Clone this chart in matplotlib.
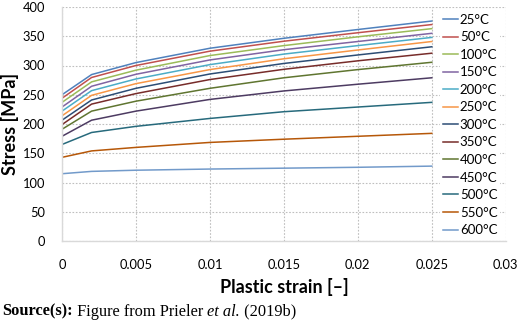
import matplotlib
matplotlib.use("Agg")
import matplotlib.pyplot as plt

strain = [0, 0.002, 0.005, 0.01, 0.015, 0.02, 0.025]
temps = ["25°C", "50°C", "100°C", "150°C", "200°C", "250°C", "300°C",
         "350°C", "400°C", "450°C", "500°C", "550°C", "600°C"]
s25 = [250, 284.5, 305, 329.5, 346.5, 361.5, 376]
s50 = [244, 279.5, 300, 324.5, 341.5, 356, 370]
s100 = [237, 272, 292, 317, 334, 349, 363]
s150 = [229, 264.5, 285, 309.5, 327, 341, 355]
s200 = [222, 257, 277, 301.5, 319.5, 334, 348]
s250 = [214, 249, 269, 293, 311.5, 326.5, 341]
s300 = [206.5, 241, 261, 285.5, 303.5, 318, 332]
s350 = [199, 234, 252, 276, 293.5, 308, 321]
s400 = [191, 222, 239, 261, 279, 293, 305.5]
s450 = [179, 206.5, 222, 242, 256.5, 268, 279]
s500 = [165, 185.5, 196, 209.5, 221, 229, 237]
s550 = [143, 154, 160, 168.5, 174, 179, 184]
s600 = [115, 119, 121, 123, 124.5, 126, 128]
series = [s25, s50, s100, s150, s200, s250, s300, s350, s400, s450, s500, s550, s600]
colors = ["#4F81BD", "#C0504D", "#9BBB59", "#8064A2", "#4BACC6", "#F79646", "#2C4D75",
          "#772C2A", "#5F7530", "#4D3B62", "#276A7C", "#B65708", "#729ACA"]

xticks = [0, 0.005, 0.01, 0.015, 0.02, 0.025, 0.03]
xticklabels = ["0", "0.005", "0.01", "0.015", "0.02", "0.025", "0.03"]
yticks = [0, 50, 100, 150, 200, 250, 300, 350, 400]

plt.rcParams['font.family'] = ['Lato', 'DejaVu Sans']

W, H = 520, 320
fig = plt.figure(figsize=(W / 100, H / 100), dpi=100)
ax = fig.add_axes([62 / W, 1 - 241 / H, (505.7 - 62) / W, (241 - 7) / H])

for lab, ys, c in zip(temps, series, colors):
    ax.plot(strain, ys, color=c, lw=1.1, label=lab, solid_joinstyle='round')

ax.set_xlim(0, 0.03)
ax.set_ylim(0, 400)
ax.set_xticks(xticks)
ax.set_xticklabels(xticklabels)
ax.set_yticks(yticks)
ax.grid(True, color="#BFBFBF", linestyle=(0, (1.5, 1.5)), lw=0.8)
ax.set_axisbelow(True)
for side in ["top", "right"]:
    ax.spines[side].set_visible(False)
for side in ["left", "bottom"]:
    ax.spines[side].set_color("#D9D9D9")
    ax.spines[side].set_linewidth(1.0)
ax.tick_params(length=0, labelsize=9.3, colors="#000000")
ax.tick_params(axis='y', pad=12)
ax.tick_params(axis='x', pad=13)

fig.text(10 / W, 1 - 124 / H, "Stress [MPa]", rotation=90, fontsize=13, fontweight='bold',
         ha='center', va='center')
fig.text(284 / W, 1 - 286.5 / H, "Plastic strain [–]", fontsize=13, fontweight='bold',
         ha='center', va='center')

leg = ax.legend(loc='upper left', bbox_to_anchor=(440 / W, 1 - 11 / H),
                bbox_transform=fig.transFigure, frameon=True, fontsize=9.5,
                handlelength=1.2, handletextpad=0.1, labelspacing=0.42,
                borderpad=0.2, borderaxespad=0)
leg.get_frame().set_facecolor("white")
leg.get_frame().set_edgecolor("none")
leg.get_frame().set_alpha(1)
leg.get_frame().set_boxstyle("square", pad=0)

# Source line with mixed styles
fig.canvas.draw()
r = fig.canvas.get_renderer()
parts = [("Source(s):", dict(fontweight='bold')),
         (" Figure from Prieler ", {}),
         ("et al.", dict(style='italic')),
         (" (2019b)", {})]
x = 2.0
for txt, kw in parts:
    t = fig.text(x / W, 1 - 311.5 / H, txt, family=['Liberation Serif'], fontsize=11.8,
                 va='center', ha='left', **kw)
    bb = t.get_window_extent(renderer=r)
    x += bb.width

fig.savefig("out.png", dpi=100)
